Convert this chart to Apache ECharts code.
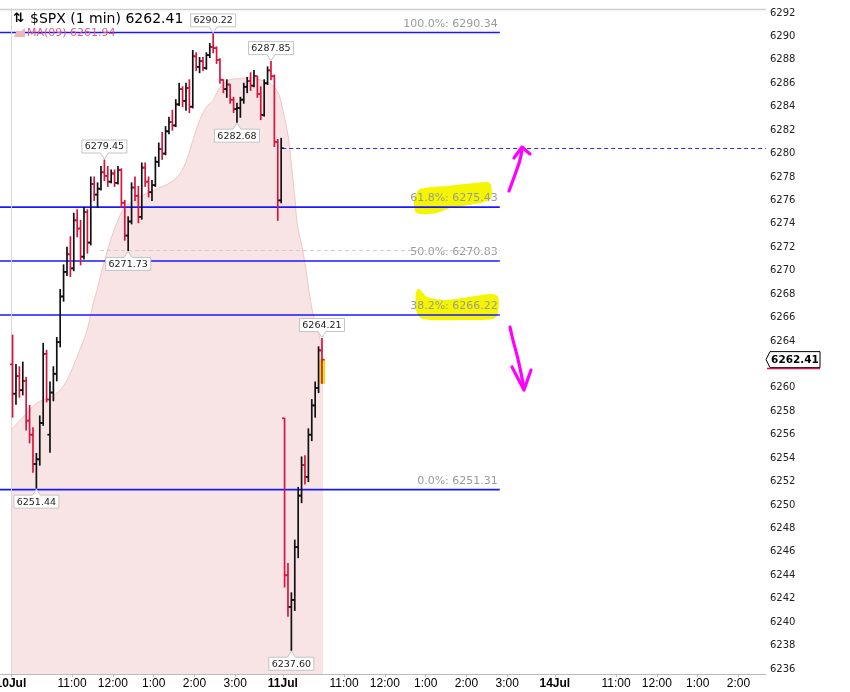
<!DOCTYPE html>
<html><head><meta charset="utf-8">
<script src="https://cdn.jsdelivr.net/npm/echarts@6/dist/echarts.min.js"></script>
<style>html,body{margin:0;padding:0;background:#fff}#c{width:850px;height:692px}</style>
</head><body><div id="c"></div>
<script>
// ---------- data ----------
const barMinutes = 5;            // one bar = 5 minutes
const sessionStart = [0, 400];   // session start (minutes on the axis) for 10Jul, 11Jul

const d1Open = [6262.0,6259.5,6261.0,6259.8,6260.6,6257.2,6256.0,6253.5,6253.9,6257.0,
  6262.9,6256.0,6259.6,6261.2,6263.9,6267.8,6269.9,6271.4,6270.2,6274.3,
  6273.6,6271.2,6275.0,6272.4,6277.4,6276.5,6277.0,6278.4,6278.1,6277.6,
  6278.3,6277.5,6278.6,6275.8,6273.0,6274.2,6277.1,6276.4,6274.6,6278.8,
  6277.6,6276.7,6277.3,6279.3,6280.4,6280.0,6281.9,6282.7,6282.4,6284.2,
  6285.5,6284.5,6285.6,6284.0,6288.3,6287.4,6287.9,6287.3,6288.4,6289.1,
  6289.0,6288.0,6286.3,6285.5,6285.9,6284.6,6283.8,6283.9,6284.6,6285.7,
  6286.2,6285.8,6286.6,6285.1,6283.3,6286.0,6287.1,6286.6,6281.0,6276.0];
const d1High = [6264.5,6262.0,6261.8,6262.2,6260.9,6258.5,6256.6,6254.4,6257.6,6263.8,
  6263.2,6260.5,6261.8,6264.3,6268.4,6270.5,6272.0,6272.9,6274.9,6275.2,
  6274.3,6275.4,6275.2,6278.0,6278.0,6277.5,6278.9,6279.45,6278.9,6278.6,
  6278.6,6278.9,6278.7,6276.0,6274.6,6277.5,6278.0,6277.2,6279.2,6279.2,
  6278.0,6277.7,6279.7,6280.9,6281.8,6282.3,6283.1,6283.7,6284.6,6286.0,
  6285.7,6286.0,6286.3,6288.8,6288.6,6288.2,6288.2,6288.6,6289.4,6290.22,
  6289.1,6288.1,6286.3,6286.3,6285.9,6284.8,6284.3,6284.8,6286.0,6286.5,
  6286.9,6287.1,6286.6,6285.7,6286.3,6287.4,6287.85,6286.7,6281.2,6281.3];
const d1Low = [6257.5,6258.6,6259.2,6259.4,6256.4,6255.3,6252.8,6251.44,6253.4,6256.8,
  6258.8,6254.5,6258.9,6260.6,6263.5,6267.4,6269.6,6269.5,6270.0,6272.9,
  6270.5,6271.0,6271.5,6272.2,6276.0,6275.4,6276.9,6277.7,6277.2,6277.5,
  6277.2,6277.4,6275.4,6272.6,6271.73,6274.0,6276.0,6274.1,6274.4,6277.2,
  6276.3,6276.0,6277.2,6278.9,6279.5,6279.9,6281.7,6282.0,6282.3,6284.1,
  6284.0,6283.7,6283.5,6283.9,6287.1,6286.9,6287.1,6287.2,6288.2,6288.6,
  6287.7,6286.0,6285.2,6284.8,6284.3,6283.5,6282.68,6283.1,6284.3,6285.2,
  6285.4,6285.7,6284.8,6282.9,6283.2,6285.9,6286.3,6280.6,6274.3,6275.8];
const d1Close = [6259.5,6261.0,6259.8,6260.6,6257.2,6256.0,6253.5,6253.9,6257.0,6262.9,
  6259.0,6259.6,6261.2,6263.9,6267.8,6269.9,6271.4,6270.2,6274.3,6273.6,
  6271.2,6275.0,6272.4,6277.4,6276.5,6277.0,6278.4,6278.1,6277.6,6278.3,
  6277.5,6278.6,6275.8,6273.0,6274.2,6277.1,6276.4,6274.6,6278.8,6277.6,
  6276.7,6277.3,6279.3,6280.4,6280.0,6281.9,6282.7,6282.4,6284.2,6285.5,
  6284.5,6285.6,6284.0,6288.3,6287.4,6287.9,6287.3,6288.4,6289.1,6289.0,
  6288.0,6286.3,6285.5,6285.9,6284.6,6283.8,6283.9,6284.6,6285.7,6286.2,
  6285.8,6286.6,6285.1,6283.3,6286.0,6287.1,6286.6,6281.0,6276.0,6280.46];

const d2Open  = [6257.4,6244.0,6241.3,6241.9,6246.4,6250.8,6253.4,6252.4,6256.0,6258.5,6260.0,6263.2];
const d2High  = [6257.4,6245.0,6242.5,6247.0,6251.5,6254.1,6254.2,6256.5,6259.0,6260.5,6263.5,6264.21];
const d2Low   = [6243.0,6240.5,6237.6,6241.0,6245.5,6250.2,6251.8,6252.0,6255.5,6257.5,6259.6,6260.4];
const d2Close = [6244.0,6241.3,6241.9,6246.4,6250.8,6253.4,6252.4,6256.0,6258.5,6260.0,6263.2,6262.41];

// moving-average band (minute on axis, value)
const maMinute = [0,18,38,58,72,83,97,112,121,127,135,150,165,180,200,219,234,249,259,268,278,288,297,308,322,337,352,366,381,393,400,408,413,418,421,430,440,444,455,459];
const maValue  = [6256.4,6257.5,6258.7,6259.2,6259.8,6260.7,6262.6,6264.9,6267.2,6268.4,6270.3,6273.2,6275.2,6276.0,6276.6,6277.1,6277.5,6278.3,6279.5,6281.2,6282.9,6284.0,6284.5,6285.7,6286.3,6286.4,6286.5,6286.3,6286.0,6285.2,6283.7,6281.4,6278.8,6276.0,6274.0,6271.5,6267.7,6266.4,6264.1,6263.5];

// fibonacci retracement
const fibPct   = ['100.0%','61.8%','50.0%','38.2%','0.0%'];
const fibPrice = [6290.34, 6275.43, 6270.83, 6266.22, 6251.31];
const fibEndMinute = 719;
const prevClose = 6280.46, prevCloseFrom = 399;
const refLevel = 6271.73, refFrom = 131;
const lastPrice = 6262.41;
const maLast = 6261.94;

// callouts: session, bar index, side
const calloutDay  = [0,0,0,0,0,0,1,1];
const calloutBar  = [59,76,27,66,34,7,11,2];
const calloutSide = ['up','up','up','down','down','down','up','down'];

// axis ticks
const dayLabels   = ['10Jul','11Jul','14Jul'];
const hourOffsets = [90,150,210,270,330];
const hourLabels  = ['11:00','12:00','1:00','2:00','3:00'];
const dayStarts   = [0,400,800];
const yTicks = [6236,6238,6240,6242,6244,6246,6248,6250,6252,6254,6256,6258,6260,6262,6264,6266,6268,6270,6272,6274,6276,6278,6280,6282,6284,6286,6288,6290,6292];

// hand-drawn annotations (minute, price)
const hl1Minute = [594.3,597.2,601.6,641.4,700.2,704.6,704.6,689.9,645.8,626.6,597.2];
const hl1Price  = [6276.04,6276.46,6276.89,6277.15,6277.49,6277.32,6276.21,6275.87,6275.44,6275.01,6275.01];
const hl2Minute = [598.7,611.9,641.4,704.6,714.9,714.9,709.0,664.9,606.1,597.2];
const hl2Price  = [6268.35,6267.67,6267.41,6267.93,6267.76,6266.48,6265.96,6265.88,6265.96,6266.65];
const upArrowMinute = [732.5,736.9,742.8,748.7,751.6];
const upArrowPrice  = [6276.80,6277.49,6278.43,6279.45,6280.30];
const upHeadMinute  = [739.9,751.6,763.4];
const upHeadPrice   = [6279.62,6280.56,6279.96];
const dnArrowMinute = [734.0,738.4,744.3,748.7,754.6];
const dnArrowPrice  = [6265.19,6264.08,6262.80,6261.69,6259.99];
const dnHeadMinute  = [736.9,754.6,764.9];
const dnHeadPrice   = [6261.78,6259.82,6261.52];

// ---------- build ----------
const X_MIN = -16, X_MAX = 1110.5, Y_MIN = 6235.573, Y_MAX = 6292.341;
const sessions = [[d1Open,d1High,d1Low,d1Close],[d2Open,d2High,d2Low,d2Close]];
const bars = [];
sessions.forEach((s, d) => {
  s[0].forEach((o, i) => {
    bars.push([sessionStart[d] + i*barMinutes + barMinutes/2, o, s[1][i], s[2][i], s[3][i]]);
  });
});
const lastBar = bars[bars.length-1];

const tickText = {};
const xTicks = [];
dayStarts.forEach((s, d) => {
  xTicks.push(s); tickText[s] = {t: dayLabels[d], day: true};
  hourOffsets.forEach((o, j) => { xTicks.push(s+o); tickText[s+o] = {t: hourLabels[j], day: false}; });
});

const callouts = calloutDay.map((d, i) => {
  const s = sessions[d], b = calloutBar[i];
  const price = calloutSide[i] === 'up' ? s[1][b] : s[2][b];
  return [sessionStart[d] + b*barMinutes + barMinutes/2, price];
});

const RED = '#d6163e';
const BLUE = '#1818ff';

function renderOHLC(params, api) {
  const m = api.value(0), o = api.value(1), h = api.value(2), l = api.value(3), c = api.value(4);
  const ph = api.coord([m,h]), pl = api.coord([m,l]), po = api.coord([m,o]), pc = api.coord([m,c]);
  const st = {stroke: c >= o ? '#111' : RED, lineWidth: 1.7};
  return {type:'group', children:[
    {type:'line', shape:{x1:ph[0], y1:ph[1]-0.5, x2:pl[0], y2:pl[1]+0.5}, style:st},
    {type:'line', shape:{x1:po[0]-2.6, y1:po[1], x2:po[0], y2:po[1]}, style:st},
    {type:'line', shape:{x1:pc[0], y1:pc[1], x2:pc[0]+2.6, y2:pc[1]}, style:st}
  ]};
}

function renderCallout(params, api) {
  const i = params.dataIndex;
  const p = api.coord([api.value(0), api.value(1)]);
  const up = calloutSide[i] === 'up';
  const w = 45, h = 13, gap = 7, x0 = p[0]-w/2, x1 = p[0]+w/2;
  let pts, ty;
  if (up) {
    const yb = p[1]-gap, yt = yb-h;
    pts = [[x0,yt],[x1,yt],[x1,yb],[p[0]+4,yb],[p[0],p[1]-1],[p[0]-4,yb],[x0,yb]]; ty = (yt+yb)/2;
  } else {
    const yt = p[1]+gap, yb = yt+h;
    pts = [[x0,yt],[p[0]-4,yt],[p[0],p[1]+1],[p[0]+4,yt],[x1,yt],[x1,yb],[x0,yb]]; ty = (yt+yb)/2;
  }
  return {type:'group', children:[
    {type:'polygon', shape:{points:pts}, style:{fill:'#fff', stroke:'#c4c4c4', lineWidth:1}},
    {type:'text', x:p[0], y:ty+0.5, style:{text: api.value(1).toFixed(2), fill:'#222', font:'9.5px "DejaVu Sans"', align:'center', verticalAlign:'middle'}}
  ]};
}

function renderFib(params, api) {
  const i = params.dataIndex;
  const a = api.coord([api.value(0), api.value(1)]), b = api.coord([api.value(2), api.value(1)]);
  const y = a[1];
  return {type:'group', children:[
    {type:'line', shape:{x1:a[0], y1:y, x2:b[0], y2:y}, style:{stroke:BLUE, lineWidth:1.6}},
    {type:'text', x:b[0]-2, y:y-3, style:{text: fibPct[i] + ': ' + fibPrice[i].toFixed(2), fill:'#9a9a9a', font:'11px "DejaVu Sans"', align:'right', verticalAlign:'bottom'}}
  ]};
}

function poly(ms, ps, api) { return ms.map((m, k) => api.coord([m, ps[k]])); }

function renderHighlight(params, api) {
  const pts = params.dataIndex === 0 ? poly(hl1Minute, hl1Price, api) : poly(hl2Minute, hl2Price, api);
  return {type:'polygon', shape:{points:pts, smooth:0.3}, style:{fill:'#f5f500', stroke:'#f5f500', lineWidth:2}};
}

function renderArrow(params, api) {
  const up = params.dataIndex === 0;
  const body = up ? poly(upArrowMinute, upArrowPrice, api) : poly(dnArrowMinute, dnArrowPrice, api);
  const head = up ? poly(upHeadMinute, upHeadPrice, api) : poly(dnHeadMinute, dnHeadPrice, api);
  const st = {stroke:'#ff00ff', lineWidth:3.2, lineCap:'round', lineJoin:'round', fill:null};
  return {type:'group', children:[
    {type:'polyline', shape:{points:body, smooth:0.4}, style:st},
    {type:'polyline', shape:{points:head}, style:st}
  ]};
}

function renderTag(params, api) {
  const p = api.coord([api.value(0), api.value(1)]);
  const x = p[0], y = p[1];
  return {type:'group', children:[
    {type:'polygon', shape:{points:[[x,y],[x+4,y-8],[x+54,y-8],[x+54,y+8],[x+4,y+8]]}, style:{fill:'#fff', stroke:'#000', lineWidth:1}},
    {type:'line', shape:{x1:x+1, y1:y+9, x2:x+54, y2:y+9}, style:{stroke:RED, lineWidth:1.5}},
    {type:'text', x:x+29, y:y+0.5, style:{text:lastPrice.toFixed(2), fill:'#000', font:'bold 10.5px "DejaVu Sans"', align:'center', verticalAlign:'middle'}}
  ]};
}

function renderLastHi(params, api) {
  const a = api.coord([api.value(0)-2.5, api.value(1)]), b = api.coord([api.value(0)+4, api.value(2)]);
  return {type:'rect', shape:{x:a[0], y:a[1], width:b[0]-a[0], height:b[1]-a[1]}, style:{fill:'#f3f000', stroke:'#d8c800', lineWidth:0.8}};
}

const chart = echarts.init(document.getElementById('c'), null, {renderer:'canvas'});
chart.setOption({
  animation: false,
  backgroundColor: '#fff',
  grid: {left: 0, right: 84, top: 9, bottom: 18, containLabel: false, outerBoundsMode: 'none'},
  xAxis: {
    type: 'value', min: X_MIN, max: X_MAX,
    axisLine: {show: true, lineStyle: {color: '#bbb', width: 1}},
    axisTick: {show: true, customValues: xTicks, length: 3, lineStyle: {color: '#bbb'}},
    splitLine: {show: false},
    axisLabel: {
      customValues: xTicks, margin: 4, color: '#000', fontSize: 12, fontFamily: 'Liberation Sans',
      formatter: v => { const t = tickText[Math.round(v)]; if (!t) return ''; return t.day ? '{b|' + t.t + '}' : t.t; },
      rich: {b: {fontWeight: 'bold', fontSize: 12, fontFamily: 'Liberation Sans', color: '#000'}}
    }
  },
  yAxis: {
    type: 'value', position: 'right', min: Y_MIN, max: Y_MAX,
    axisLine: {show: true, lineStyle: {color: '#aaa', type: 'dotted', width: 1}},
    axisTick: {show: false},
    splitLine: {show: false},
    axisLabel: {customValues: yTicks, margin: 4, color: '#222', fontSize: 10, fontFamily: 'DejaVu Sans',
      formatter: v => String(Math.round(v))}
  },
  graphic: [
    {type:'line', shape:{x1:0, y1:9.5, x2:766, y2:9.5}, style:{stroke:'#cfcfcf', lineWidth:1.5}, z:50},
    {type:'text', x:13, y:19, style:{text:'⇅', font:'bold 13px "DejaVu Sans"', fill:'#000', verticalAlign:'middle'}, z:50},
    {type:'text', x:30, y:19, style:{text:'$SPX (1 min) ' + lastPrice.toFixed(2), font:'14px "DejaVu Sans"', fill:'#000', verticalAlign:'middle'}, z:50},
    {type:'polygon', shape:{points:[[14,37],[17,30],[20,32],[25,28],[25,37]]}, style:{fill:'#f0b4bc'}, z:50},
    {type:'text', x:27, y:33, style:{text:'MA(09) ' + maLast.toFixed(2), font:'11px "DejaVu Sans"', fill:'#e0607a', verticalAlign:'middle'}, z:50}
  ],
  series: [
    {
      name: 'MA', type: 'line', z: 1, smooth: 0.3, showSymbol: false, silent: true,
      data: maMinute.map((m, i) => [m, maValue[i]]),
      lineStyle: {color: '#f0c6c6', width: 1},
      areaStyle: {color: '#f8e4e4', opacity: 1, origin: 'start'},
      markLine: {
        symbol: 'none', silent: true, label: {show: false},
        data: [
          {xAxis: 0, lineStyle: {color: '#d8d8d8', type: 'solid', width: 1}},
          [{coord: [refFrom, refLevel], lineStyle: {color: '#cfcfcf', type: [4, 3], width: 1}}, {coord: [fibEndMinute, refLevel]}],
          [{coord: [prevCloseFrom, prevClose], lineStyle: {color: '#2a2aff', type: [4, 3], width: 1.2}}, {coord: [X_MAX, prevClose]}]
        ]
      }
    },
    {type:'custom', z: 2, clip: false, silent: true, renderItem: renderHighlight, data: [[hl1Minute[0], hl1Price[0]], [hl2Minute[0], hl2Price[0]]]},
    {type:'custom', z: 3, clip: false, silent: true, renderItem: renderFib,
      encode: {x: [0, 2], y: 1},
      data: fibPrice.map(p => [X_MIN, p, fibEndMinute])},
    {type:'custom', z: 4, clip: false, silent: true, renderItem: renderLastHi, encode: {x: 0, y: [1, 2]},
      data: [[lastBar[0], lastBar[4], lastBar[3]]]},
    {type:'custom', z: 5, clip: false, silent: true, renderItem: renderOHLC,
      encode: {x: 0, y: [1, 2, 3, 4]}, data: bars},
    {type:'custom', z: 6, clip: false, silent: true, renderItem: renderCallout, data: callouts},
    {type:'custom', z: 7, clip: false, silent: true, renderItem: renderArrow, data: [[upArrowMinute[0], upArrowPrice[0]], [dnArrowMinute[0], dnArrowPrice[0]]]},
    {type:'custom', z: 10, clip: false, silent: true, renderItem: renderTag, data: [[X_MAX, lastPrice]]}
  ]
});
</script>
</body></html>
